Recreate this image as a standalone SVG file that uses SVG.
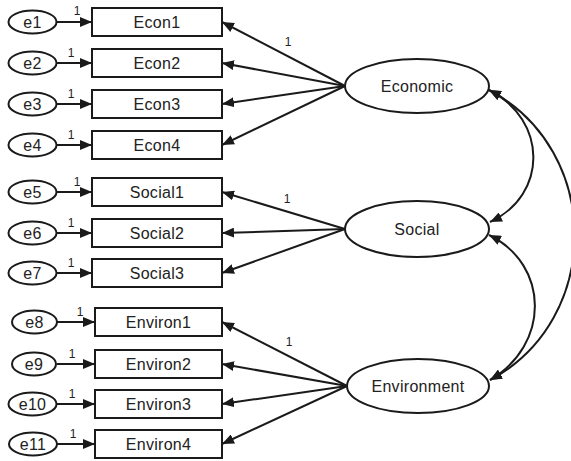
<svg xmlns="http://www.w3.org/2000/svg" width="571" height="461" viewBox="0 0 571 461">
<style>
.box{fill:#fff;stroke:#1a1a1a;stroke-width:2}
.el{fill:#fff;stroke:#1a1a1a;stroke-width:2}
.t{font-family:"Liberation Sans",Arial,sans-serif;font-size:16px;letter-spacing:0.3px;fill:#222;text-anchor:middle;dominant-baseline:central}
.w{font-family:"Liberation Sans",Arial,sans-serif;font-size:12px;fill:#222;text-anchor:middle}
.ln{stroke:#1a1a1a;stroke-width:2;fill:none}
</style>
<defs>
<marker id="ah" markerUnits="userSpaceOnUse" viewBox="0 0 12 10" refX="12" refY="5" markerWidth="12" markerHeight="10" orient="auto-start-reverse">
<path d="M0,0 L12,5 L0,10 Z" fill="#1a1a1a"/>
</marker>
</defs>
<g id="connectors">
<line class="ln" x1="57" y1="22" x2="92" y2="22" marker-end="url(#ah)"/>
<line class="ln" x1="57" y1="63" x2="92" y2="63" marker-end="url(#ah)"/>
<line class="ln" x1="57" y1="104" x2="92" y2="104" marker-end="url(#ah)"/>
<line class="ln" x1="57" y1="145" x2="92" y2="145" marker-end="url(#ah)"/>
<line class="ln" x1="57" y1="192" x2="92" y2="192" marker-end="url(#ah)"/>
<line class="ln" x1="57" y1="233" x2="92" y2="233" marker-end="url(#ah)"/>
<line class="ln" x1="57" y1="273" x2="92" y2="273" marker-end="url(#ah)"/>
<line class="ln" x1="57" y1="322" x2="95" y2="322" marker-end="url(#ah)"/>
<line class="ln" x1="57" y1="364" x2="95" y2="364" marker-end="url(#ah)"/>
<line class="ln" x1="57" y1="404" x2="95" y2="404" marker-end="url(#ah)"/>
<line class="ln" x1="57" y1="444" x2="95" y2="444" marker-end="url(#ah)"/>
<text class="w" x="77" y="15">1</text>
<text class="w" x="71" y="57">1</text>
<text class="w" x="71" y="98">1</text>
<text class="w" x="71" y="139">1</text>
<text class="w" x="77" y="186">1</text>
<text class="w" x="71" y="227">1</text>
<text class="w" x="71" y="267">1</text>
<text class="w" x="80" y="316">1</text>
<text class="w" x="72" y="358">1</text>
<text class="w" x="72" y="398">1</text>
<text class="w" x="73" y="438">1</text>
<line class="ln" x1="345" y1="86" x2="222" y2="22" marker-end="url(#ah)"/>
<line class="ln" x1="345" y1="86" x2="222" y2="63" marker-end="url(#ah)"/>
<line class="ln" x1="345" y1="86" x2="222" y2="104" marker-end="url(#ah)"/>
<line class="ln" x1="345" y1="86" x2="222" y2="145" marker-end="url(#ah)"/>
<line class="ln" x1="345" y1="229" x2="222" y2="192" marker-end="url(#ah)"/>
<line class="ln" x1="345" y1="229" x2="222" y2="233" marker-end="url(#ah)"/>
<line class="ln" x1="345" y1="229" x2="222" y2="273" marker-end="url(#ah)"/>
<line class="ln" x1="347" y1="386" x2="222" y2="322" marker-end="url(#ah)"/>
<line class="ln" x1="347" y1="386" x2="222" y2="364" marker-end="url(#ah)"/>
<line class="ln" x1="347" y1="386" x2="222" y2="404" marker-end="url(#ah)"/>
<line class="ln" x1="347" y1="386" x2="222" y2="444" marker-end="url(#ah)"/>
<text class="w" x="288" y="46">1</text>
<text class="w" x="287" y="203">1</text>
<text class="w" x="289" y="346">1</text>
<path class="ln" d="M489,90 C548,120 548,195 490,222" marker-start="url(#ah)" marker-end="url(#ah)"/>
<path class="ln" d="M489,90 C603,150 603,320 490,380" marker-start="url(#ah)" marker-end="url(#ah)"/>
<path class="ln" d="M489,235 C550,265 550,345 490,380" marker-start="url(#ah)" marker-end="url(#ah)"/>
</g>
<g id="e1"><ellipse class="el" cx="32.5" cy="22" rx="24" ry="11.5"/><text class="t" x="32.5" y="22">e1</text></g>
<g id="e2"><ellipse class="el" cx="32.5" cy="63" rx="24" ry="11.5"/><text class="t" x="32.5" y="63">e2</text></g>
<g id="e3"><ellipse class="el" cx="32.5" cy="104" rx="24" ry="11.5"/><text class="t" x="32.5" y="104">e3</text></g>
<g id="e4"><ellipse class="el" cx="32.5" cy="145" rx="24" ry="11.5"/><text class="t" x="32.5" y="145">e4</text></g>
<g id="e5"><ellipse class="el" cx="32.5" cy="192" rx="24" ry="11.5"/><text class="t" x="32.5" y="192">e5</text></g>
<g id="e6"><ellipse class="el" cx="32.5" cy="233" rx="24" ry="11.5"/><text class="t" x="32.5" y="233">e6</text></g>
<g id="e7"><ellipse class="el" cx="32.5" cy="273" rx="24" ry="11.5"/><text class="t" x="32.5" y="273">e7</text></g>
<g id="e8"><ellipse class="el" cx="34.5" cy="322" rx="22.5" ry="11.5"/><text class="t" x="34.5" y="322">e8</text></g>
<g id="e9"><ellipse class="el" cx="34" cy="364" rx="22" ry="11.5"/><text class="t" x="34" y="364">e9</text></g>
<g id="e10"><ellipse class="el" cx="32.5" cy="404" rx="24" ry="11.5"/><text class="t" x="32.5" y="404">e10</text></g>
<g id="e11"><ellipse class="el" cx="33" cy="444" rx="24" ry="11.5"/><text class="t" x="33" y="444">e11</text></g>
<g id="Econ1"><rect class="box" x="92" y="8" width="130" height="28"/><text class="t" x="157" y="22">Econ1</text></g>
<g id="Econ2"><rect class="box" x="92" y="49" width="130" height="28"/><text class="t" x="157" y="63">Econ2</text></g>
<g id="Econ3"><rect class="box" x="92" y="90" width="130" height="28"/><text class="t" x="157" y="104">Econ3</text></g>
<g id="Econ4"><rect class="box" x="92" y="131" width="130" height="28"/><text class="t" x="157" y="145">Econ4</text></g>
<g id="Social1"><rect class="box" x="92" y="178" width="130" height="28"/><text class="t" x="157" y="192">Social1</text></g>
<g id="Social2"><rect class="box" x="92" y="219" width="130" height="28"/><text class="t" x="157" y="233">Social2</text></g>
<g id="Social3"><rect class="box" x="92" y="259" width="130" height="28"/><text class="t" x="157" y="273">Social3</text></g>
<g id="Environ1"><rect class="box" x="95" y="308" width="127" height="28"/><text class="t" x="158.5" y="322">Environ1</text></g>
<g id="Environ2"><rect class="box" x="95" y="350" width="127" height="28"/><text class="t" x="158.5" y="364">Environ2</text></g>
<g id="Environ3"><rect class="box" x="95" y="390" width="127" height="28"/><text class="t" x="158.5" y="404">Environ3</text></g>
<g id="Environ4"><rect class="box" x="95" y="430" width="127" height="28"/><text class="t" x="158.5" y="444">Environ4</text></g>
<g id="Economic"><ellipse class="el" cx="417" cy="86" rx="72" ry="27"/><text class="t" x="417" y="86">Economic</text></g>
<g id="Social"><ellipse class="el" cx="417" cy="229" rx="72" ry="28"/><text class="t" x="417" y="229">Social</text></g>
<g id="Environment"><ellipse class="el" cx="418" cy="386" rx="71" ry="27"/><text class="t" x="418" y="386">Environment</text></g>
</svg>
